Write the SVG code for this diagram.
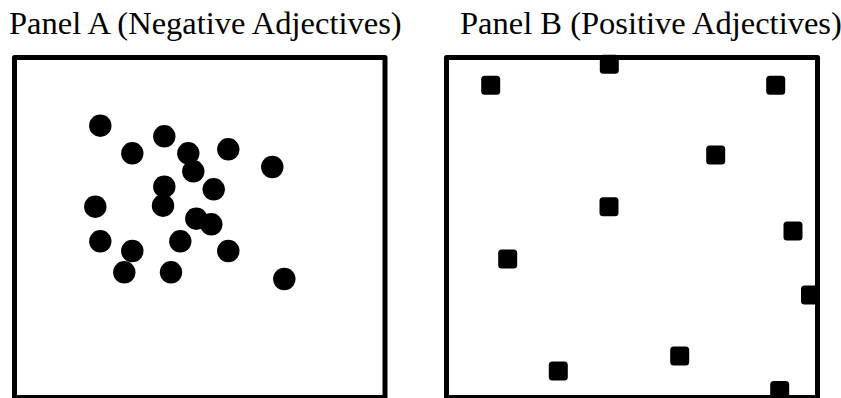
<svg xmlns="http://www.w3.org/2000/svg" width="841" height="398" viewBox="0 0 841 398">
<style>
.title{font-family:"Liberation Serif","Times New Roman",serif;font-size:32.5px;fill:#000}
.frame{fill:none;stroke:#000;stroke-width:5;stroke-linejoin:round}
.dot{fill:#000}
.sq{fill:#000}
</style>
<rect width="841" height="398" fill="#fff"/>
<g id="panelA">
<text class="title" x="9" y="34">Panel A (Negative Adjectives)</text>
<g id="dotsA">
<circle class="dot" cx="100.3" cy="125.7" r="11.2"/>
<circle class="dot" cx="164.3" cy="136.3" r="11.2"/>
<circle class="dot" cx="132.3" cy="153.3" r="11.2"/>
<circle class="dot" cx="188.3" cy="153.3" r="11.2"/>
<circle class="dot" cx="228.3" cy="149.3" r="11.2"/>
<circle class="dot" cx="193.3" cy="171.3" r="11.2"/>
<circle class="dot" cx="272.3" cy="167" r="11.2"/>
<circle class="dot" cx="164.3" cy="186.7" r="11.2"/>
<circle class="dot" cx="213.7" cy="189.3" r="11.2"/>
<circle class="dot" cx="95.3" cy="206.7" r="11.2"/>
<circle class="dot" cx="163" cy="205.7" r="11.2"/>
<circle class="dot" cx="196.3" cy="218.7" r="11.2"/>
<circle class="dot" cx="211.3" cy="224.3" r="11.2"/>
<circle class="dot" cx="100.3" cy="241.3" r="11.2"/>
<circle class="dot" cx="180.3" cy="241.3" r="11.2"/>
<circle class="dot" cx="132.3" cy="251" r="11.2"/>
<circle class="dot" cx="228.3" cy="251" r="11.2"/>
<circle class="dot" cx="124.3" cy="272.3" r="11.2"/>
<circle class="dot" cx="171" cy="272.3" r="11.2"/>
<circle class="dot" cx="284.3" cy="279" r="11.2"/>
</g>
<rect class="frame" x="14.5" y="57.5" width="370.5" height="340"/>
</g>
<g id="panelB">
<text class="title" x="460" y="34">Panel B (Positive Adjectives)</text>
<g id="squaresB">
<rect class="sq" x="599.8" y="54.8" width="19" height="19" rx="3.5"/>
<rect class="sq" x="481.2" y="75.8" width="19" height="19" rx="3.5"/>
<rect class="sq" x="766.2" y="75.8" width="19" height="19" rx="3.5"/>
<rect class="sq" x="706.2" y="145.5" width="19" height="19" rx="3.5"/>
<rect class="sq" x="599.5" y="197.2" width="19" height="19" rx="3.5"/>
<rect class="sq" x="783.5" y="221.5" width="19" height="19" rx="3.5"/>
<rect class="sq" x="498.2" y="249.5" width="19" height="19" rx="3.5"/>
<rect class="sq" x="801" y="285.5" width="19" height="19" rx="3.5"/>
<rect class="sq" x="670.2" y="346.5" width="19" height="19" rx="3.5"/>
<rect class="sq" x="548.8" y="361.5" width="19" height="19" rx="3.5"/>
<rect class="sq" x="770.2" y="381" width="19" height="19" rx="3.5"/>
</g>
<rect class="frame" x="446.5" y="57.5" width="371" height="340"/>
</g>
</svg>
